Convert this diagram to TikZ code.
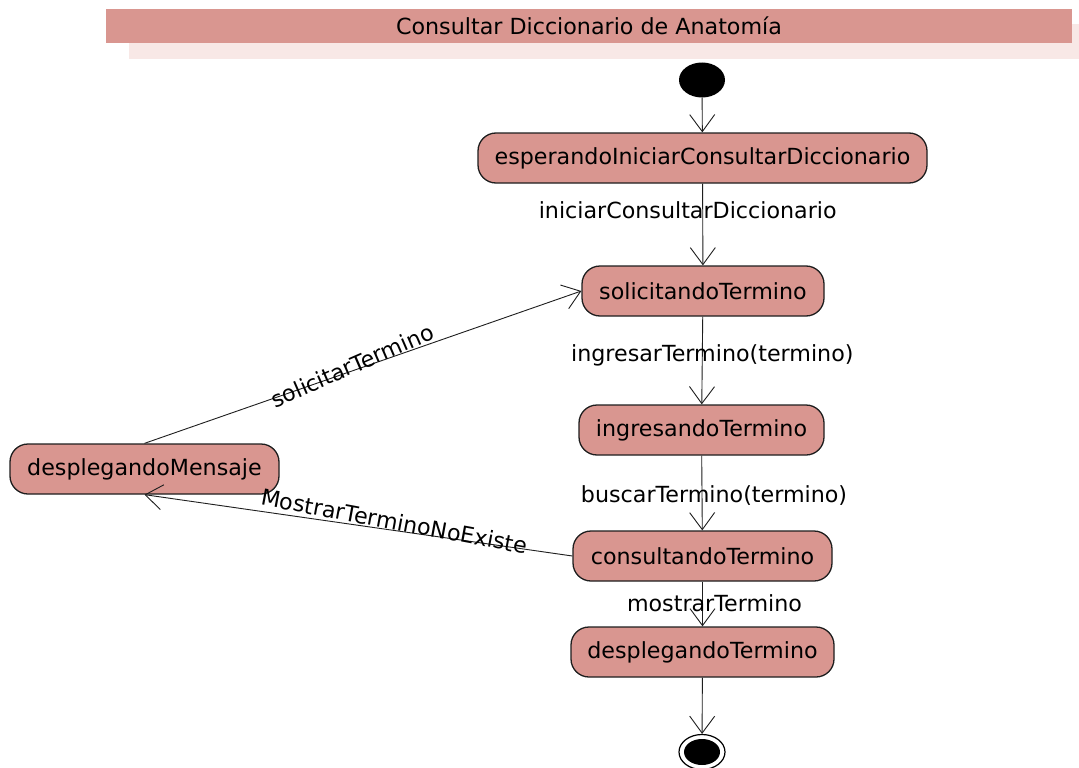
\documentclass[tikz,border=0pt]{standalone}
\usepackage{fontspec}
\setmainfont{DejaVu Sans}
\usetikzlibrary{shapes.geometric,arrows.meta}
\definecolor{statefill}{RGB}{217,150,144}
\definecolor{shadowfill}{RGB}{248,232,230}
\definecolor{edgecol}{RGB}{30,30,30}
\tikzset{
  every node/.style={font=\fontsize{22.2}{25}\selectfont},
  stbox/.style={draw=edgecol, line width=1.3pt, fill=statefill, rounded corners=18pt,
    minimum height=50pt, inner sep=0pt},
  trans/.style={draw=edgecol, line width=0.9pt,
    -{Straight Barb[length=17pt,width=25pt,line width=0.9pt]}},
  lbl/.style={inner sep=1pt, text=black},
  initstate/.style={ellipse, fill=black, minimum width=46pt, minimum height=35pt, inner sep=0pt},
  finalstate/.style={ellipse, draw=black, line width=1.2pt, fill=white,
    minimum width=46pt, minimum height=35pt, inner sep=0pt,
    path picture={\fill[black] (path picture bounding box.center) ellipse (18pt and 13pt);}}
}
\begin{document}
\begin{tikzpicture}[x=1pt,y=-1pt]
\useasboundingbox (0,0) rectangle (1079,768);
\fill[white] (0,0) rectangle (1079,768);

% title bar with its soft shadow
\fill[shadowfill] (129,24) rectangle (1079,59);
\fill[statefill] (106,9) rectangle (1072,43);
\node (title) at (589,26) {Consultar Diccionario de Anatomía};

% states
\node[initstate] (init) at (702,80) {};
\node[stbox, minimum width=449pt] (espI) at (702.5,158) {esperandoIniciarConsultarDiccionario};
\node[stbox, minimum width=242pt] (solT) at (703,291) {solicitandoTermino};
\node[stbox, minimum width=245pt] (ingT) at (701.5,430) {ingresandoTermino};
\node[stbox, minimum width=259pt] (conT) at (702.5,556) {consultandoTermino};
\node[stbox, minimum width=263pt] (desT) at (702.5,652) {desplegandoTermino};
\node[stbox, minimum width=269pt] (desM) at (144.5,469) {desplegandoMensaje};
\node[finalstate] (fin) at (702,752) {};

% transitions
\draw[trans] (init) -- (espI);
\draw[trans] (espI) -- node[lbl, pos=0.33, xshift=-15pt] {iniciarConsultarDiccionario} (solT);
\draw[trans] (solT) -- node[lbl, pos=0.44, xshift=10pt] {ingresarTermino(termino)} (ingT);
\draw[trans] (ingT) -- node[lbl, pos=0.53, xshift=12pt] {buscarTermino(termino)} (conT);
\draw[trans] (conT) -- node[lbl, pos=0.48, xshift=12pt] {mostrarTermino} (desT);
\draw[trans] (desT) -- (fin);
\draw[trans] (desM.north) -- node[lbl, pos=0.48, rotate=23.5, yshift=5pt] {solicitarTermino} (solT.west);
\draw[trans] (conT.west) -- node[lbl, pos=0.42, rotate=-10.5, yshift=9pt] {MostrarTerminoNoExiste} (desM.south);
\end{tikzpicture}
\end{document}
